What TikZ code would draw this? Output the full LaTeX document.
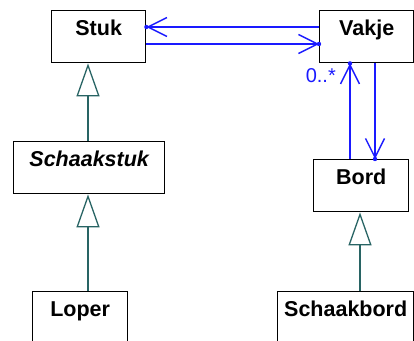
\documentclass[tikz,border=0pt]{standalone}
\usepackage{fontspec}
\setmainfont{Liberation Sans}
\usetikzlibrary{arrows.meta}
\definecolor{assoc}{RGB}{26,26,255}
\definecolor{genc}{RGB}{40,100,100}
\begin{document}
\begin{tikzpicture}[x=1pt,y=-1pt,
  cls/.style={draw=black, line width=1.4pt, fill=white, anchor=north west,
    inner xsep=0pt, inner ysep=0pt, text height=25pt, text depth=27pt,
    font=\fontsize{21.5}{24}\selectfont\bfseries},
  genl/.style={draw=genc, line width=1.3pt, -{Triangle[open,length=33pt,width=23pt]}},
  asc/.style={draw=assoc, line width=1.4pt, -{Straight Barb[length=19pt,width=19pt]}},
  dot/.style={fill=assoc},
]
\useasboundingbox (0,0) rectangle (414,340);
\node[cls, minimum width=94pt] (Stuk) at (51,10) {Stuk};
\node[cls, minimum width=94pt] (Vakje) at (319,10) {Vakje};
\node[cls, minimum width=151pt] (Schaakstuk) at (13,141) {\itshape Schaakstuk};
\node[cls, minimum width=95pt] (Loper) at (32,291) {Loper};
\node[cls, minimum width=95pt] (Bord) at (313,159) {Bord};
\node[cls, minimum width=136pt] (Schaakbord) at (277,291) {Schaakbord};
\coordinate (ya) at (0,27);
\coordinate (yb) at (0,44);
\coordinate (xa) at (350,0);
\coordinate (xb) at (375,0);
\coordinate (xg) at (88,0);
\coordinate (xh) at (360,0);
% associations
\draw[asc] (Vakje.west |- ya) -- (Stuk.east |- ya);
\draw[asc] (Stuk.east |- yb) -- (Vakje.west |- yb);
\draw[asc] (Bord.north -| xa) -- (Vakje.south -| xa);
\draw[asc] (Vakje.south -| xb) -- (Bord.north -| xb);
\fill[dot] (Stuk.east |- ya) circle (2.2);
\fill[dot] (Vakje.west |- yb) circle (2.2);
\fill[dot] (Vakje.south -| xa) circle (2.2);
\fill[dot] (Bord.north -| xb) circle (2.2);
\node[text=assoc, font=\fontsize{20}{24}\selectfont, anchor=east, inner sep=0pt] (mult) at (336,76) {0..*};
% generalizations
\draw[genl] (Schaakstuk.north -| xg) -- (Stuk.south -| xg);
\draw[genl] (Loper.north -| xg) -- (Schaakstuk.south -| xg);
\draw[genl] (Schaakbord.north -| xh) -- (Bord.south -| xh);
\end{tikzpicture}
\end{document}
